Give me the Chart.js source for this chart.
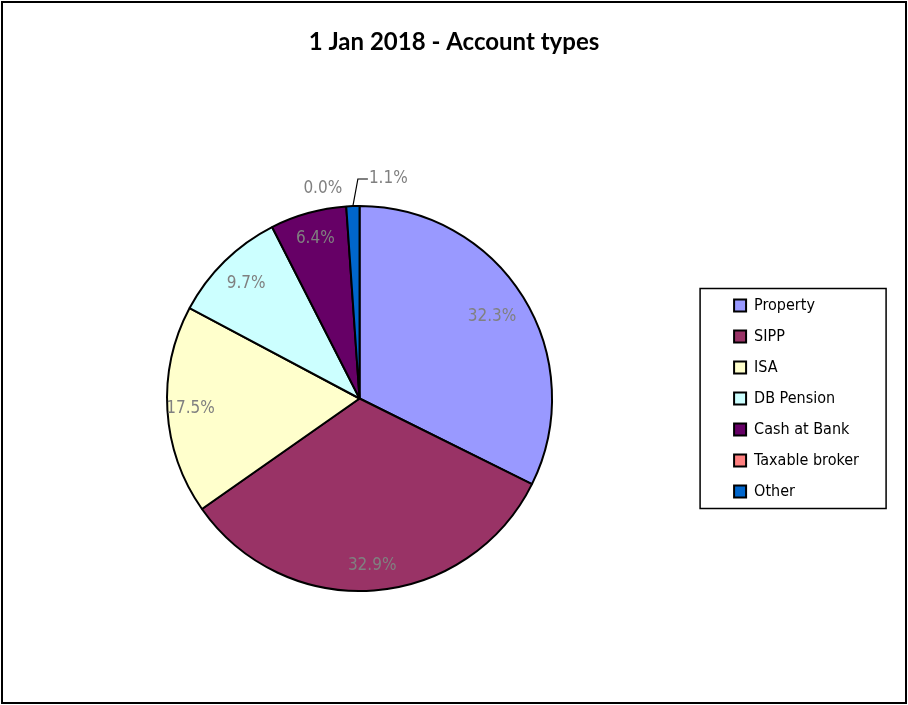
<!DOCTYPE html>
<html>
<head>
<meta charset="utf-8">
<script src="https://cdn.jsdelivr.net/npm/chart.js@4.4.0/dist/chart.umd.min.js"></script>
<style>
  html, body { margin: 0; padding: 0; background: #fff; }
  #wrap { width: 908px; height: 705px; }
</style>
</head>
<body>
<div id="wrap"><canvas id="pieChart" width="908" height="705"></canvas></div>
<script>
// data
const accountTypes = ['Property', 'SIPP', 'ISA', 'DB Pension', 'Cash at Bank', 'Taxable broker', 'Other'];
const shares = [32.3, 32.9, 17.5, 9.7, 6.4, 0.0, 1.1];
const sliceColours = ['#9999FF', '#993366', '#FFFFCC', '#CCFFFF', '#660066', '#FF8080', '#0066CC'];
const chartTitle = '1 Jan 2018 - Account types';

/***** frame, title and box round the legend *****/
const framePlugin = {
  id: 'frame',
  beforeDraw(chart) {
    const ctx = chart.ctx;
    ctx.save();
    ctx.fillStyle = '#fff';
    ctx.fillRect(0, 0, chart.width, chart.height);
    ctx.restore();
  },
  afterDraw(chart) {
    const ctx = chart.ctx;
    ctx.save();
    ctx.strokeStyle = '#000';
    ctx.lineWidth = 2;
    ctx.strokeRect(2, 2, chart.width - 4, chart.height - 4);

    // title centred on the whole chart (the built-in one is pushed by the legend padding)
    ctx.fillStyle = '#000';
    ctx.font = 'bold 24px Lato';
    ctx.textAlign = 'center';
    ctx.textBaseline = 'middle';
    ctx.fillText(chartTitle, chart.width / 2, 42);

    const boxes = chart.legend.legendHitBoxes;
    if (boxes && boxes.length) {
      const first = boxes[0];
      const last = boxes[boxes.length - 1];
      const left = first.left - 34;
      const top = first.top - 9;
      const bottom = last.top + last.height + 9;
      ctx.lineWidth = 1.5;
      ctx.strokeRect(left, top, 186, bottom - top);
    }
    ctx.restore();
  }
};

/***** percentage labels on the slices *****/
const labelRadius = [0.81, 0.87, 0.88, 0.84, 0.86];
const labelPlugin = {
  id: 'sliceLabels',
  afterDatasetsDraw(chart) {
    const ctx = chart.ctx;
    const meta = chart.getDatasetMeta(0);
    ctx.save();
    ctx.font = '17px "DejaVu Sans Condensed", "DejaVu Sans"';
    ctx.fillStyle = '#808080';
    ctx.textBaseline = 'middle';
    meta.data.forEach((arc, i) => {
      const p = arc.getProps(['x', 'y', 'startAngle', 'endAngle', 'outerRadius'], true);
      const mid = (p.startAngle + p.endAngle) / 2;
      const text = shares[i].toFixed(1) + '%';
      const r = p.outerRadius;
      if (shares[i] >= 3) {
        const k = labelRadius[i] || 0.86;
        ctx.textAlign = 'center';
        ctx.fillText(text, p.x + Math.cos(mid) * r * k, p.y + Math.sin(mid) * r * k);
      } else if (shares[i] > 0) {
        // small slice: label outside with a leader line
        const sx = p.x + Math.cos(mid) * r;
        const sy = p.y + Math.sin(mid) * r;
        const ex = sx + 5;
        const ey = p.y - r - 27;
        ctx.strokeStyle = '#000';
        ctx.lineWidth = 1.2;
        ctx.beginPath();
        ctx.moveTo(sx, sy);
        ctx.lineTo(ex, ey);
        ctx.lineTo(ex + 10, ey);
        ctx.stroke();
        ctx.textAlign = 'left';
        ctx.fillText(text, ex + 11, ey);
      } else {
        const sx = p.x + Math.cos(mid) * r;
        ctx.textAlign = 'right';
        ctx.fillText(text, sx - 4, p.y - r - 17);
      }
    });
    ctx.restore();
  }
};

const data = {
  labels: accountTypes,
  datasets: [{
    data: shares,
    backgroundColor: sliceColours,
    borderColor: '#000',
    borderWidth: 2
  }]
};

const config = {
  type: 'pie',
  data: data,
  options: {
    responsive: false,
    animation: false,
    layout: {
      padding: { top: 205, left: 0, right: 39, bottom: 113 }
    },
    plugins: {
      title: { display: false },
      legend: {
        position: 'right',
        fullSize: false,
        labels: {
          color: '#000',
          boxWidth: 12,
          boxHeight: 12,
          padding: 15,
          font: { family: '"DejaVu Sans Condensed", "DejaVu Sans"', size: 16 }
        }
      },
      tooltip: { enabled: false }
    }
  },
  plugins: [framePlugin, labelPlugin]
};

const myChart = new Chart(document.getElementById('pieChart'), config);
</script>
</body>
</html>
